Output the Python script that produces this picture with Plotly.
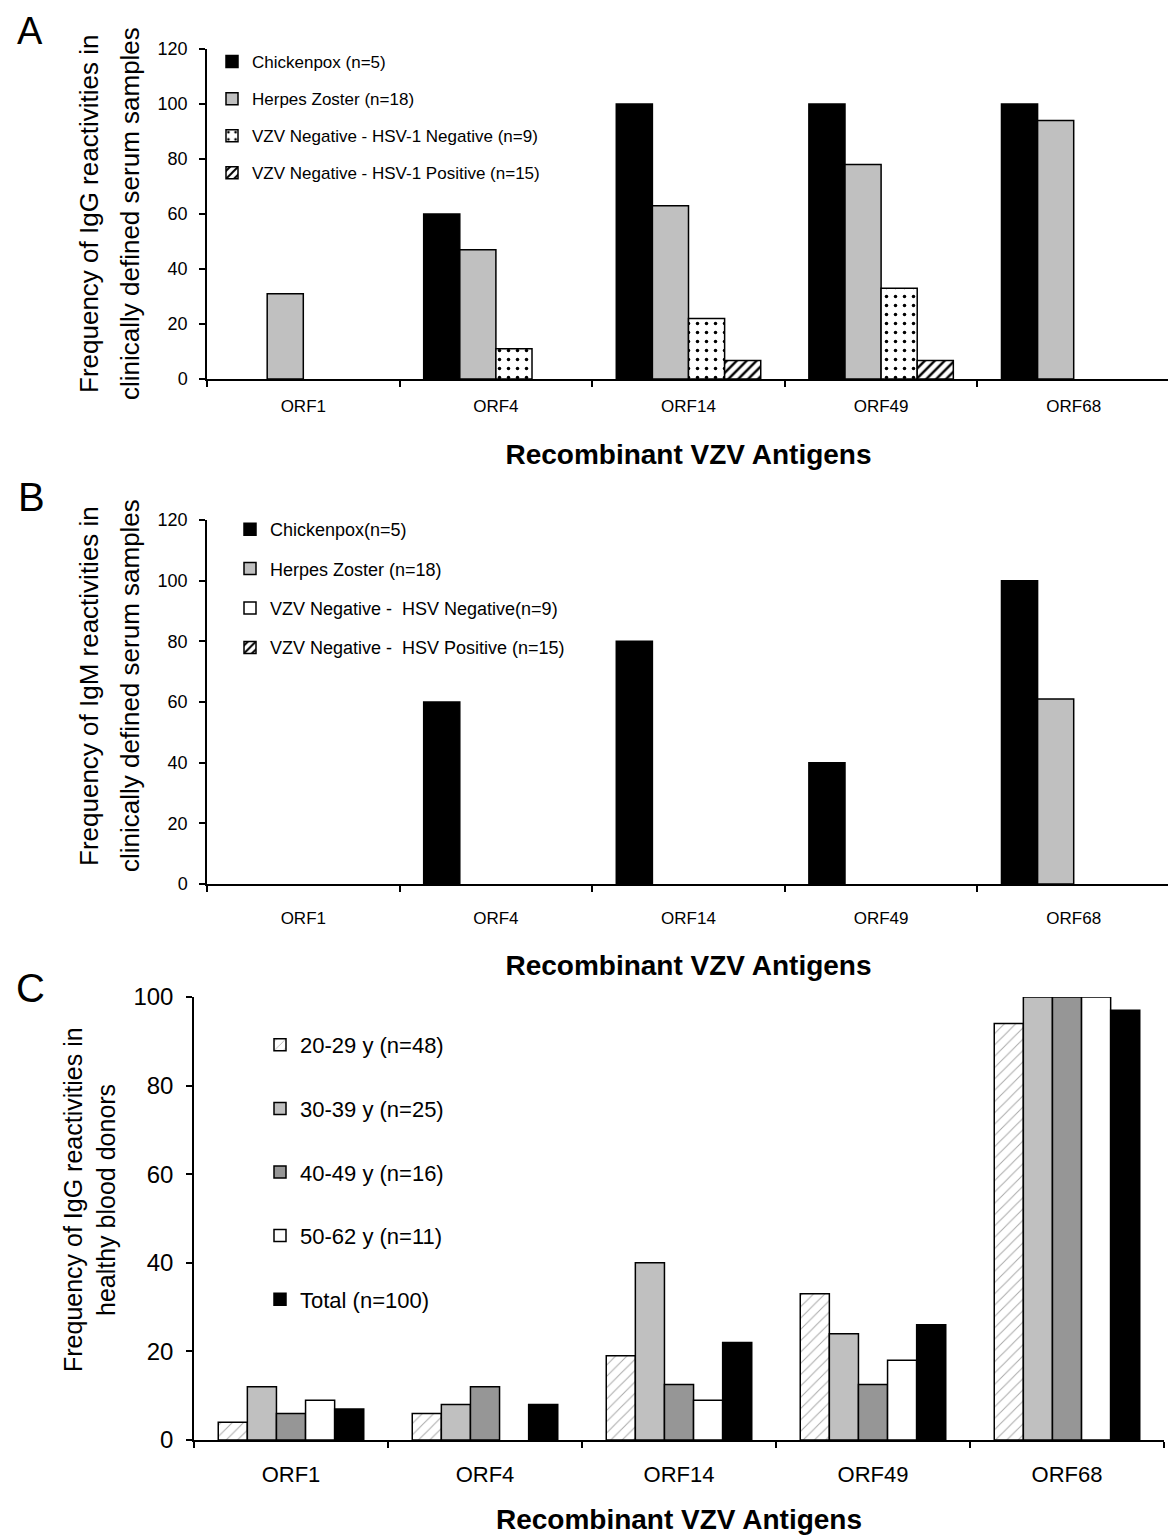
import plotly.graph_objects as go

FONT = "Liberation Sans, Arial, sans-serif"

antigens = ["ORF1", "ORF4", "ORF14", "ORF49", "ORF68"]

# Panel A: IgG, clinically defined sera
a_names = ["Chickenpox (n=5)", "Herpes Zoster (n=18)",
           "VZV Negative - HSV-1 Negative (n=9)", "VZV Negative - HSV-1 Positive (n=15)"]
a_chickenpox = [0, 60, 100, 100, 100]
a_zoster = [31, 47, 63, 78, 94]
a_neg_neg = [0, 11, 22, 33, 0]
a_neg_pos = [0, 0, 6.7, 6.7, 0]

# Panel B: IgM, clinically defined sera
b_names = ["Chickenpox(n=5)", "Herpes Zoster (n=18)",
           "VZV Negative -  HSV Negative(n=9)", "VZV Negative -  HSV Positive (n=15)"]
b_chickenpox = [0, 60, 80, 40, 100]
b_zoster = [0, 0, 0, 0, 61]
b_neg_neg = [0, 0, 0, 0, 0]
b_neg_pos = [0, 0, 0, 0, 0]

# Panel C: IgG, healthy blood donors
c_names = ["20-29 y (n=48)", "30-39 y (n=25)", "40-49 y (n=16)", "50-62 y (n=11)", "Total (n=100)"]
c_20_29 = [4, 6, 19, 33, 94]
c_30_39 = [12, 8, 40, 24, 100]
c_40_49 = [6, 12, 12.5, 12.5, 100]
c_50_62 = [9, 0, 9, 18, 100]
c_total = [7, 8, 22, 26, 97]

yticks_ab = [0, 20, 40, 60, 80, 100, 120]
yticks_c = [0, 20, 40, 60, 80, 100]

STYLES = {
    "black": dict(color="black"),
    "lgray": dict(color="#c0c0c0"),
    "dgray": dict(color="#969696"),
    "white": dict(color="white"),
    "dots": dict(color="white", pattern=dict(shape=".", fgcolor="black", bgcolor="white",
                                             size=9, solidity=0.12)),
    "hatch": dict(color="white", pattern=dict(shape="/", fgcolor="black", bgcolor="white",
                                              size=7, solidity=0.35)),
    "light_hatch": dict(color="white", pattern=dict(shape="/", fgcolor="#a8a8a8", bgcolor="white",
                                                    size=8, solidity=0.12)),
}

fig = go.Figure()

def add(vals, name, style, xa, ya, leg, grp):
    marker = dict(STYLES[style])
    marker["line"] = dict(color="black", width=1.5)
    # zero-height bars are left undrawn (no outline on the baseline)
    shown = [v if v != 0 else None for v in vals]
    fig.add_trace(go.Bar(x=antigens, y=shown, name=name, marker=marker,
                         xaxis=xa, yaxis=ya, legend=leg, legendgroup=grp))

for v, n, s, g in zip([a_chickenpox, a_zoster, a_neg_neg, a_neg_pos], a_names,
                      ["black", "lgray", "dots", "hatch"], ["a1", "a2", "a3", "a4"]):
    add(v, n, s, "x", "y", "legend", g)
for v, n, s, g in zip([b_chickenpox, b_zoster, b_neg_neg, b_neg_pos], b_names,
                      ["black", "lgray", "white", "hatch"], ["b1", "b2", "b3", "b4"]):
    add(v, n, s, "x2", "y2", "legend2", g)
for v, n, s, g in zip([c_20_29, c_30_39, c_40_49, c_50_62, c_total], c_names,
                      ["light_hatch", "lgray", "dgray", "white", "black"],
                      ["c1", "c2", "c3", "c4", "c5"]):
    add(v, n, s, "x3", "y3", "legend3", g)

H = 1536.0
W = 1176.0
DX = -8  # page offset correction
DY = -8

def ydom(top, bottom):
    return [1 - (bottom + DY) / H, 1 - (top + DY) / H]

def xdom(left, right):
    return [(left + DX) / W, (right + DX) / W]

def xax(dom, anchor, size, lab_off, title_size, standoff):
    return dict(domain=dom, anchor=anchor, type="category", showline=True, linecolor="black",
                linewidth=1.5, ticks="outside", tickson="boundaries", ticklen=6, tickcolor="black",
                tickwidth=1.5, showgrid=False, zeroline=False, automargin=False,
                ticklabelstandoff=lab_off,
                tickfont=dict(family=FONT, size=size, color="black"),
                title=dict(text="<b>Recombinant VZV Antigens</b>", standoff=standoff,
                           font=dict(family=FONT, size=title_size, color="black")))

def yax(dom, anchor, rng, tv, size, lab_off):
    return dict(domain=dom, anchor=anchor, range=rng, tickvals=tv, showline=True,
                linecolor="black", linewidth=1.5, ticks="outside", ticklen=6, tickcolor="black",
                tickwidth=1.5, showgrid=False, zeroline=False, automargin=False,
                ticklabelstandoff=lab_off,
                tickfont=dict(family=FONT, size=size, color="black"))

def legend(x, y, size, gap):
    return dict(x=(x + DX) / W, y=1 - (y + DY) / H, xanchor="left", yanchor="top",
                bgcolor="rgba(0,0,0,0)", borderwidth=0,
                font=dict(family=FONT, size=size, color="black"), traceorder="grouped",
                tracegroupgap=gap)

fig.update_layout(
    template="none",
    width=1176, height=1536, margin=dict(l=0, r=0, t=0, b=0, pad=0, autoexpand=False),
    paper_bgcolor="white", plot_bgcolor="white",
    font=dict(family=FONT, color="black"),
    barmode="group", bargap=0.25, bargroupgap=0,
    xaxis=xax(xdom(207, 1170), "y", 17, 11, 28, 29),
    yaxis=yax(ydom(49, 379), "x", [0, 120], yticks_ab, 18, 8),
    xaxis2=xax(xdom(207, 1170), "y2", 17, 18, 28, 28),
    yaxis2=yax(ydom(520, 884), "x2", [0, 120], yticks_ab, 18, 8),
    xaxis3=xax(xdom(194, 1164), "y3", 22, 14, 28, 23),
    yaxis3=yax(ydom(997, 1440), "x3", [0, 100], yticks_c, 24, 8),
    legend=legend(212, 44, 17, 12),
    legend2=legend(230, 511, 18, 13),
    legend3=legend(260, 1024, 22, 32),
)

def ann(text, x, y, size, angle=0, yanchor="middle"):
    fig.add_annotation(text=text, x=(x + DX) / W, y=min(1.0, 1 - (y + DY) / H),
                       xref="paper", yref="paper",
                       showarrow=False, textangle=angle, xanchor="center", yanchor=yanchor,
                       font=dict(family=FONT, size=size, color="black"))

# panel letters
ann("A", 30, 8, 38, yanchor="top")
ann("B", 31, 497, 40)
ann("C", 30, 988, 40)

# y-axis titles
ann("Frequency of IgG reactivities in", 89, 214, 26, -90)
ann("clinically defined serum samples", 130, 214, 26, -90)
ann("Frequency of IgM reactivities in", 89, 686, 26, -90)
ann("clinically defined serum samples", 130, 686, 26, -90)
ann("Frequency of IgG reactivities in", 73, 1200, 25, -90)
ann("healthy blood donors", 106, 1200, 25, -90)

fig.write_html("out.html")
